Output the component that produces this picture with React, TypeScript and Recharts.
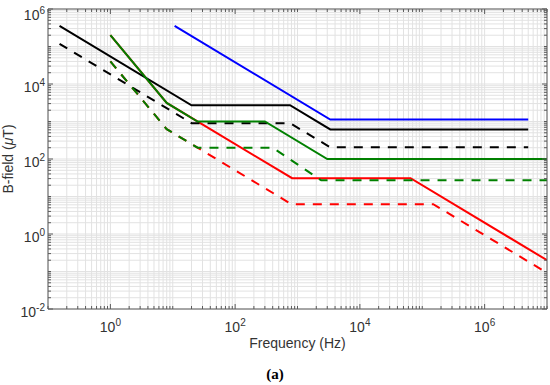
import React from "react";
import { LineChart, Line, XAxis, YAxis, CartesianGrid } from "recharts";

if (typeof document !== "undefined") document.body.style.margin = "0";

// ICNIRP 2010 occupational (green solid) and general public (green dashed)
const icnirp2010Occ = [
  { f: 1, b: 200000 },
  { f: 8, b: 3125 },
  { f: 25, b: 1000 },
  { f: 300, b: 1000 },
  { f: 3000, b: 100 },
  { f: 10000000, b: 100 },
];
const icnirp2010Pub = [
  { f: 1, b: 40000 },
  { f: 8, b: 625 },
  { f: 25, b: 200 },
  { f: 400, b: 200 },
  { f: 2400, b: 27 },
  { f: 10000000, b: 27 },
];
// IEEE C95.6 head & torso, controlled (black solid) and public (black dashed)
const ieeeCtrl = [
  { f: 0.153, b: 353000 },
  { f: 20, b: 2710 },
  { f: 759, b: 2710 },
  { f: 3350, b: 615 },
  { f: 5000000, b: 615 },
];
const ieeePub = [
  { f: 0.153, b: 118000 },
  { f: 20, b: 905 },
  { f: 759, b: 905 },
  { f: 3350, b: 205 },
  { f: 5000000, b: 205 },
];
// IEEE C95.6 limbs (blue)
const ieeeLimbs = [
  { f: 10.7, b: 353000 },
  { f: 3350, b: 1130 },
  { f: 5000000, b: 1130 },
];
// ICNIRP 1998 occupational (red solid) and general public (red dashed)
const icnirp1998Occ = [
  { f: 1, b: 200000 },
  { f: 8, b: 3125 },
  { f: 820, b: 30.7 },
  { f: 65000, b: 30.7 },
  { f: 10000000, b: 0.2 },
];
const icnirp1998Pub = [
  { f: 1, b: 40000 },
  { f: 8, b: 625 },
  { f: 800, b: 6.25 },
  { f: 150000, b: 6.25 },
  { f: 10000000, b: 0.092 },
];

const xMajor = [1, 100, 10000, 1000000];
const yMajor = [0.01, 1, 100, 10000, 1000000];

const logTicks = (lo: number, hi: number) => {
  const out: number[] = [];
  for (let e = lo; e < hi; e++) {
    for (let k = 1; k < 10; k++) out.push(k * Math.pow(10, e));
  }
  out.push(Math.pow(10, hi));
  return out;
};
const xTicks = logTicks(-1, 7);
const yTicks = logTicks(-2, 6);

const isMajor = (v: number, list: number[]) =>
  list.some((m) => Math.abs(Math.log10(v) - Math.log10(m)) < 1e-6);

const AXIS = "#5a5a5a";
const FONT = "'Liberation Sans', Arial, sans-serif";

const XTick = (props: any) => {
  const { x, y, payload } = props;
  const v = payload.value;
  const major = isMajor(v, xMajor);
  const exp = Math.round(Math.log10(v));
  return (
    <g>
      <line x1={x} x2={x} y1={y} y2={y - (major ? 5 : 3)} stroke={AXIS} />
      {major && (
        <text x={x} y={y + 23} textAnchor="middle" fontSize={14} fill="#333" fontFamily={FONT}>
          10
          <tspan dy={-6} fontSize={10}>
            {exp}
          </tspan>
        </text>
      )}
    </g>
  );
};

const YTick = (props: any) => {
  const { x, y, payload } = props;
  const v = payload.value;
  const major = isMajor(v, yMajor);
  const exp = Math.round(Math.log10(v));
  const base = exp === 6 ? y + 11 : y + 7.5;
  return (
    <g>
      <line x1={x} x2={x + (major ? 5 : 3)} y1={y} y2={y} stroke={AXIS} />
      {major && (
        <text x={x - 3} y={base} textAnchor="end" fontSize={14} fill="#333" fontFamily={FONT}>
          10
          <tspan dy={-6} fontSize={10}>
            {exp}
          </tspan>
        </text>
      )}
    </g>
  );
};

const TopTick = (props: any) => {
  const { x, y, payload } = props;
  const major = isMajor(payload.value, xMajor);
  return <line x1={x} x2={x} y1={y} y2={y + (major ? 5 : 3)} stroke={AXIS} />;
};

const RightTick = (props: any) => {
  const { x, y, payload } = props;
  const major = isMajor(payload.value, yMajor);
  return <line x1={x} x2={x - (major ? 5 : 3)} y1={y} y2={y} stroke={AXIS} />;
};

const series = [
  { data: icnirp1998Pub, color: "#ff0000", dash: "9 8" },
  { data: icnirp1998Occ, color: "#ff0000", dash: undefined },
  { data: ieeePub, color: "#000000", dash: "9 8" },
  { data: ieeeCtrl, color: "#000000", dash: undefined },
  { data: icnirp2010Pub, color: "#008000", dash: "9 8" },
  { data: icnirp2010Occ, color: "#008000", dash: undefined },
  { data: ieeeLimbs, color: "#0000ff", dash: undefined },
];

export default function App() {
  return (
    <div style={{ position: "relative", width: 550, height: 385, background: "#fff" }}>
      <LineChart width={550} height={385} margin={{ top: 8, right: 2, bottom: 75, left: 47 }}>
        <CartesianGrid xAxisId="b" yAxisId="l" stroke="#e2e2e2" strokeWidth={1} />
        <XAxis
          xAxisId="b"
          dataKey="f"
          type="number"
          scale="log"
          domain={[0.1, 10000000]}
          ticks={xTicks}
          interval={0}
          allowDataOverflow
          height={1}
          tickSize={0}
          tickMargin={0}
          tickLine={false}
          axisLine={{ stroke: AXIS }}
          tick={<XTick />}
        />
        <XAxis
          xAxisId="t"
          orientation="top"
          dataKey="f"
          type="number"
          scale="log"
          domain={[0.1, 10000000]}
          ticks={xTicks}
          interval={0}
          allowDataOverflow
          height={1}
          tickSize={0}
          tickMargin={0}
          tickLine={false}
          axisLine={{ stroke: AXIS }}
          tick={<TopTick />}
        />
        <YAxis
          yAxisId="l"
          dataKey="b"
          type="number"
          scale="log"
          domain={[0.01, 1000000]}
          ticks={yTicks}
          interval={0}
          allowDataOverflow
          width={1}
          tickSize={0}
          tickMargin={0}
          tickLine={false}
          axisLine={{ stroke: AXIS }}
          tick={<YTick />}
        />
        <YAxis
          yAxisId="r"
          orientation="right"
          dataKey="b"
          type="number"
          scale="log"
          domain={[0.01, 1000000]}
          ticks={yTicks}
          interval={0}
          allowDataOverflow
          width={1}
          tickSize={0}
          tickMargin={0}
          tickLine={false}
          axisLine={{ stroke: AXIS }}
          tick={<RightTick />}
        />
        {series.map((s, i) => (
          <Line
            key={i}
            xAxisId="b"
            yAxisId="l"
            data={s.data}
            dataKey="b"
            type="linear"
            stroke={s.color}
            strokeWidth={2}
            strokeDasharray={s.dash}
            dot={false}
            activeDot={false}
            isAnimationActive={false}
          />
        ))}
      </LineChart>
      <div
        style={{
          position: "absolute",
          left: 48,
          width: 499,
          top: 335,
          textAlign: "center",
          fontFamily: FONT,
          fontSize: 14,
          color: "#333",
        }}
      >
        Frequency (Hz)
      </div>
      <div
        style={{
          position: "absolute",
          left: 8,
          top: 159,
          transform: "translate(-50%, -50%) rotate(-90deg)",
          whiteSpace: "nowrap",
          fontFamily: FONT,
          fontSize: 14,
          color: "#333",
        }}
      >
        B-field (<i>μ</i>T)
      </div>
      <div
        style={{
          position: "absolute",
          left: 0,
          width: 550,
          top: 366,
          textAlign: "center",
          fontFamily: "'Liberation Serif', 'Times New Roman', serif",
          fontWeight: "bold",
          fontSize: 15,
          color: "#000",
        }}
      >
        (a)
      </div>
    </div>
  );
}
